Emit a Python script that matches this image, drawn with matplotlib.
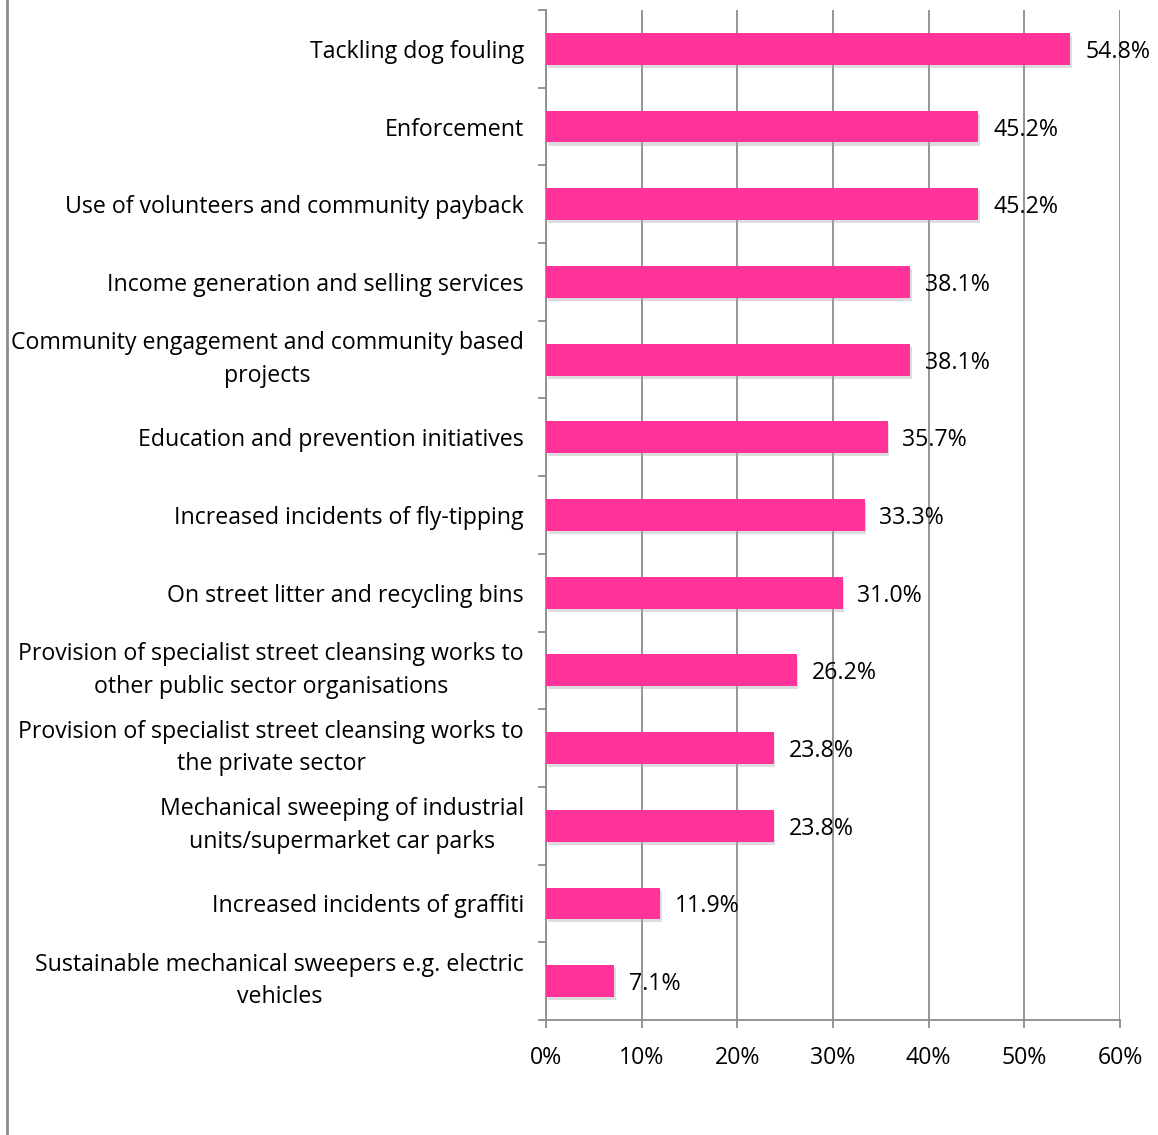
import matplotlib
matplotlib.use("Agg")
import matplotlib.pyplot as plt
import matplotlib.patheffects as pe
from matplotlib.lines import Line2D
from matplotlib.ticker import FixedLocator, PercentFormatter

categories = [
    "Tackling dog fouling",
    "Enforcement",
    "Use of volunteers and community payback",
    "Income generation and selling services",
    "Community engagement and community based\nprojects",
    "Education and prevention initiatives",
    "Increased incidents of fly-tipping",
    "On street litter and recycling bins",
    "Provision of specialist street cleansing works to\nother public sector organisations",
    "Provision of specialist street cleansing works to\nthe private sector",
    "Mechanical sweeping of industrial\nunits/supermarket car parks",
    "Increased incidents of graffiti",
    "Sustainable mechanical sweepers e.g. electric\nvehicles",
]
values = [54.8, 45.2, 45.2, 38.1, 38.1, 35.7, 33.3, 31.0, 26.2, 23.8, 23.8, 11.9, 7.1]
x_ticks = [0, 10, 20, 30, 40, 50, 60]

plt.rcParams["font.family"] = ["Open Sans", "DejaVu Sans"]
FS = 16.7

fig = plt.figure(figsize=(11.58, 11.35), dpi=100)
ax = fig.add_axes([546 / 1158, 1 - 1020 / 1135, (1120 - 546) / 1158, 1010 / 1135])

n = len(categories)
ypos = list(range(n))
bar_color = "#FF3399"
bars = ax.barh(ypos, values, height=0.41, color=bar_color, zorder=3)
for b in bars:
    b.set_path_effects([
        pe.SimplePatchShadow(offset=(1.2, -2.2), shadow_rgbFace="#aaaaaa", alpha=0.4),
        pe.Normal(),
    ])

ax.set_ylim(n - 0.5, -0.5)
ax.set_xlim(0, 60)

grid_color = "#8c8c8c"
ax.xaxis.set_major_locator(FixedLocator(x_ticks))
ax.xaxis.set_major_formatter(PercentFormatter(decimals=0))
ax.grid(axis="x", color=grid_color, linewidth=1.3, zorder=0)
ax.set_axisbelow(True)

for side in ("top", "right"):
    ax.spines[side].set_visible(False)
for side in ("left", "bottom"):
    ax.spines[side].set_color(grid_color)
    ax.spines[side].set_linewidth(1.3)

# category labels centred on bars, boundary ticks on the value axis
ax.set_yticks(ypos)
labels = ax.set_yticklabels(categories, fontsize=FS, ha="right",
                            multialignment="center", linespacing=1.48)
for lab in labels:
    if "\n" in lab.get_text():
        lab.set_va("center")
ax.tick_params(axis="y", length=0, pad=15.8)
ax.set_yticks([i - 0.5 for i in range(n + 1)], minor=True)
ax.tick_params(axis="y", which="minor", length=6, color=grid_color, width=1.3)
ax.tick_params(axis="x", length=6, color=grid_color, width=1.3, labelsize=FS, pad=13)

for y, v in zip(ypos, values):
    ax.text(v + 1.55, y, f"{v:.1f}%", va="center_baseline", ha="left", fontsize=FS,
            zorder=4)

fig.add_artist(Line2D([7 / 1158, 7 / 1158], [0, 1], color=grid_color, linewidth=2,
                      transform=fig.transFigure))

fig.savefig("out.png", dpi=100)
